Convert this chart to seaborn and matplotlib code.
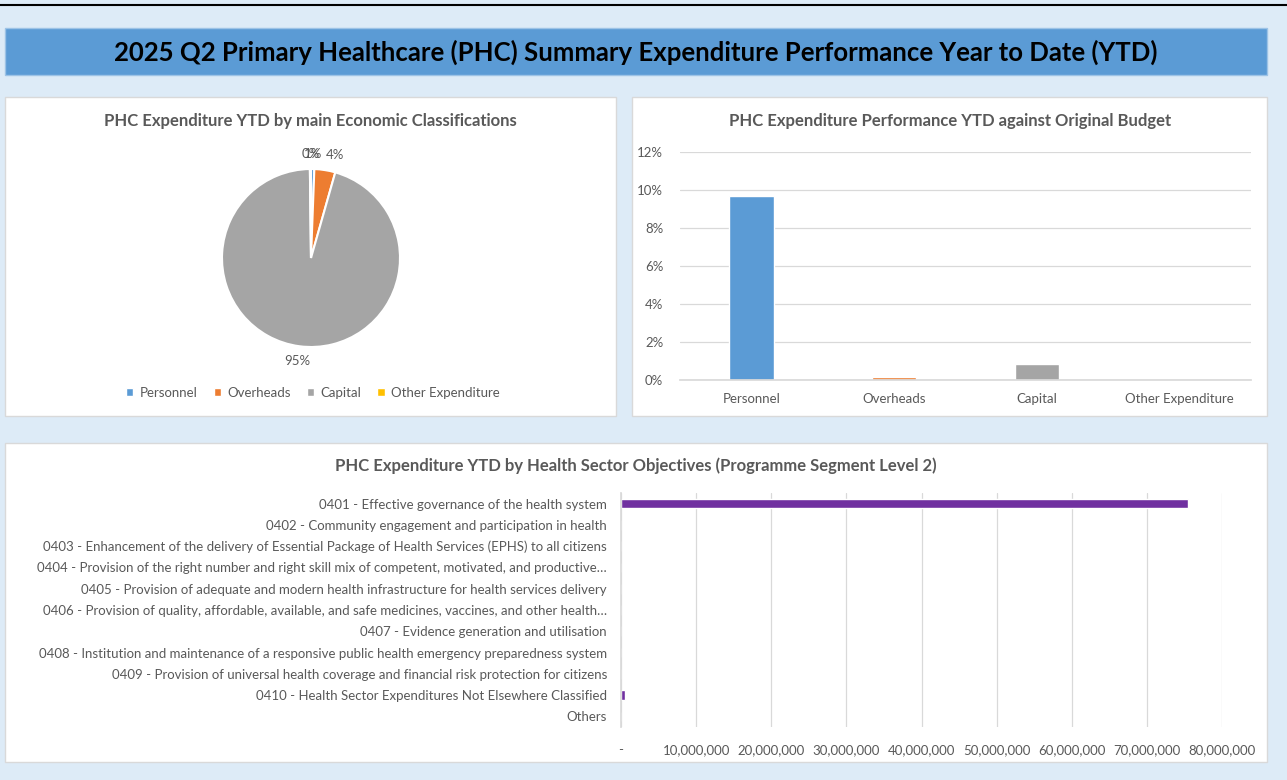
"""PHC summary expenditure dashboard (2025 Q2)."""

import matplotlib

matplotlib.use("Agg")

import matplotlib.pyplot as plt
import seaborn as sns
from matplotlib.lines import Line2D
from matplotlib.patches import Patch, Rectangle
from matplotlib.ticker import FuncFormatter, MultipleLocator

W, H = 1287, 780

economic_classes = ["Personnel", "Overheads", "Capital", "Other Expenditure"]
class_colours = ["#5B9BD5", "#ED7D31", "#A5A5A5", "#FFC000"]
expenditure_share = [0.6, 3.8, 95.4, 0.2]
budget_performance = [9.7, 0.15, 0.85, 0.0]

objectives = [
    "0401 - Effective governance of the health system",
    "0402 - Community engagement and participation in health",
    "0403 - Enhancement of the delivery of Essential Package of Health Services (EPHS) to all citizens",
    "0404 - Provision of the right number and right skill mix of competent, motivated, and productive\u2026",
    "0405 - Provision of adequate and modern health infrastructure for health services delivery",
    "0406 - Provision of quality, affordable, available, and safe medicines, vaccines, and other health\u2026",
    "0407 - Evidence generation and utilisation",
    "0408 - Institution and maintenance of a responsive public health emergency preparedness system",
    "0409 - Provision of universal health coverage and financial risk protection for citizens",
    "0410 - Health Sector Expenditures Not Elsewhere Classified",
    "Others",
]
objective_spend = [75_500_000, 0, 0, 0, 0, 0, 0, 0, 0, 520_000, 0]

TEXT = "#595959"
GRID = "#D9D9D9"

sns.set_theme(style="white")
plt.rcParams["font.family"] = ["Lato", "DejaVu Sans"]


def px_axes(fig, left, top, right, bottom):
    ax = fig.add_axes([left / W, 1 - bottom / H, (right - left) / W, (bottom - top) / H])
    ax.patch.set_alpha(0)
    return ax


def px_rect(fig, left, top, right, bottom, **kwargs):
    fig.add_artist(Rectangle((left / W, 1 - bottom / H), (right - left) / W, (bottom - top) / H,
                             transform=fig.transFigure, zorder=-5, **kwargs))


def px_text(fig, x, y, s, **kwargs):
    fig.text(x / W, 1 - y / H, s, ha="center", va="center", **kwargs)


fig = plt.figure(figsize=(W / 100, H / 100), dpi=100)
fig.patch.set_facecolor("#DDEBF7")

fig.add_artist(Line2D([0, 1], [1 - 5 / H, 1 - 5 / H], color="black", lw=1.5, transform=fig.transFigure))
px_rect(fig, 5, 28, 1267, 75, facecolor="#5B9BD5", edgecolor="#9DC3E6", lw=1)
px_text(fig, 636, 52, "2025 Q2 Primary Healthcare (PHC) Summary Expenditure Performance Year to Date (YTD)",
        fontsize=18.5, fontweight="bold", color="black")

for box in [(5, 97, 616, 416), (632, 97, 1267, 416), (5, 443, 1267, 762)]:
    px_rect(fig, *box, facecolor="white", edgecolor=GRID, lw=1)

# pie: share of YTD expenditure
px_text(fig, 310, 121, "PHC Expenditure YTD by main Economic Classifications",
        fontsize=12, fontweight="bold", color=TEXT)
ax_pie = px_axes(fig, 222, 169, 400, 347)
wedges, _, pct_labels = ax_pie.pie(
    expenditure_share, colors=class_colours, startangle=90, counterclock=False,
    autopct="%.0f%%", pctdistance=1.17, radius=1,
    wedgeprops={"edgecolor": "white", "linewidth": 1.5},
    textprops={"color": TEXT, "fontsize": 9.5})
# Excel's outside-end labels: small slices right of 12 o'clock start at the wedge edge
for label in pct_labels:
    x, y = label.get_position()
    if 0.1 < x < 0.5 and y > 0:
        label.set_ha("left")
        label.set_position((x * 0.9, y))
ax_pie.set_xlim(-1, 1)
ax_pie.set_ylim(-1, 1)
handles = [Patch(facecolor=c, label=n) for c, n in zip(class_colours, economic_classes)]
fig.legend(handles=handles, loc="center", bbox_to_anchor=(313 / W, 1 - 393 / H), ncol=4,
           frameon=False, fontsize=9.5, handlelength=0.55, handleheight=0.55, handletextpad=0.5,
           columnspacing=1.2, labelcolor=TEXT)

# column chart: performance vs original budget
px_text(fig, 950, 121, "PHC Expenditure Performance YTD against Original Budget",
        fontsize=12, fontweight="bold", color=TEXT)
ax_bar = px_axes(fig, 680, 152, 1251, 380)
sns.barplot(x=economic_classes, y=budget_performance, hue=economic_classes, palette=class_colours,
            legend=False, width=0.31, saturation=1, ax=ax_bar)
ax_bar.set_ylim(0, 12)
ax_bar.yaxis.set_major_locator(MultipleLocator(2))
ax_bar.yaxis.set_major_formatter(FuncFormatter(lambda v, _: f"{v:.0f}%"))
ax_bar.grid(axis="y", color=GRID, lw=0.9)
ax_bar.set_axisbelow(True)
for side in ["top", "right", "left"]:
    ax_bar.spines[side].set_visible(False)
ax_bar.spines["bottom"].set_color(GRID)
ax_bar.tick_params(axis="both", length=0, labelsize=9.5, labelcolor=TEXT)
ax_bar.tick_params(axis="x", pad=9)
ax_bar.tick_params(axis="y", pad=12)
ax_bar.set(xlabel="", ylabel="")

# horizontal bars: health sector objectives
px_text(fig, 636, 466, "PHC Expenditure YTD by Health Sector Objectives (Programme Segment Level 2)",
        fontsize=12, fontweight="bold", color=TEXT)
ax_obj = px_axes(fig, 621, 493, 1222, 727)
sns.barplot(x=objective_spend, y=objectives, orient="h", color="#7030A0", saturation=1,
            width=0.45, ax=ax_obj)
ax_obj.set_xlim(0, 80_000_000)
ax_obj.set_ylim(10.5, -0.5)
ax_obj.xaxis.set_major_locator(MultipleLocator(10_000_000))
ax_obj.xaxis.set_major_formatter(FuncFormatter(lambda v, _: "-" if v == 0 else f"{v:,.0f}"))
ax_obj.grid(axis="x", color=GRID, lw=0.9)
ax_obj.set_axisbelow(True)
for side in ["top", "right", "bottom"]:
    ax_obj.spines[side].set_visible(False)
ax_obj.spines["left"].set_color(GRID)
ax_obj.tick_params(axis="both", length=0, labelsize=9.5, labelcolor=TEXT)
ax_obj.tick_params(axis="x", pad=12)
ax_obj.tick_params(axis="y", pad=10)
ax_obj.set(xlabel="", ylabel="")

fig.savefig("out.png", dpi=100, facecolor=fig.get_facecolor())
